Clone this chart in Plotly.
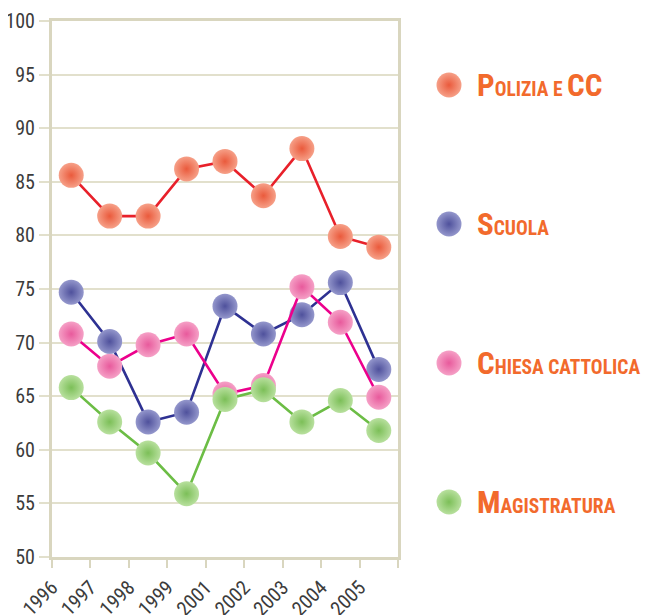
import plotly.graph_objects as go

years = ["1996", "1997", "1998", "1999", "2001", "2002", "2003", "2004", "2005"]
polizia = [85.6, 81.8, 81.8, 86.2, 86.9, 83.7, 88.1, 79.9, 78.9]
scuola = [74.7, 70.1, 62.6, 63.5, 73.4, 70.8, 72.6, 75.6, 67.5]
chiesa = [70.8, 67.8, 69.8, 70.8, 65.2, 66.0, 75.2, 71.9, 64.9]
magistratura = [65.8, 62.6, 59.7, 55.9, 64.7, 65.6, 62.6, 64.6, 61.8]

series_names = ["Polizia e CC", "Scuola", "Chiesa cattolica", "Magistratura"]
series_values = [polizia, scuola, chiesa, magistratura]
line_colors = ["#e8202a", "#2e3192", "#ec008c", "#6cbd45"]
marker_centers = ["#f6a088", "#9497cc", "#f5a0c6", "#b8e09e"]
marker_edges = ["#ea5a3c", "#4f519c", "#e85a9c", "#7cbf58"]

AXIS = "#d9d6bf"
GRID = "#e2e0cc"
TXT = "#3c3c3c"
ORANGE = "#f26a2c"
FONT = "Roboto Condensed, Liberation Sans, sans-serif"

# the page body adds an 8px offset; target pixel positions are in window coordinates
OFF = 8
W, H = 651 - OFF, 615 - OFF
left_px, right_px, top_px, bot_px = 52, 398, 21, 557
ml, mr, mt, mb = left_px - OFF, 0, top_px - OFF, H - (bot_px - OFF)
pw = W - ml - mr
xdom_end = (right_px - left_px) / pw

fig = go.Figure()
xpos = [i + 0.5 for i in range(len(years))]
for name, vals, lc, mc, me in zip(series_names, series_values, line_colors, marker_centers, marker_edges):
    fig.add_trace(go.Scatter(
        x=xpos, y=vals, mode="lines+markers", name=name,
        line=dict(color=lc, width=2.6),
        marker=dict(size=25, color=mc, gradient=dict(type="radial", color=me), line=dict(width=0)),
        showlegend=False, xaxis="x", yaxis="y",
    ))

# legend markers on a secondary axis pair
fig.add_trace(go.Scatter(
    x=[0] * len(series_names), y=list(range(len(series_names))), mode="markers",
    marker=dict(size=25, color=marker_centers, gradient=dict(type="radial", color=marker_edges), line=dict(width=0)),
    showlegend=False, xaxis="x2", yaxis="y2", hoverinfo="skip",
))


def small_caps(label, small=19.5):
    out = []
    for word_i, word in enumerate(label.split(" ")):
        if word_i:
            out.append(f"<span style='font-size:{small}px'> </span>")
        for ch in word:
            if ch.isupper():
                out.append(ch)
            else:
                out.append(f"<span style='font-size:{small}px'>{ch.upper()}</span>")
    return "<b>" + "".join(out) + "</b>"


annotations = []
for i, name in enumerate(series_names):
    annotations.append(dict(
        x=0, y=i, xref="x2", yref="y2", text=small_caps(name), showarrow=False,
        xanchor="left", yanchor="middle", xshift=26,
        font=dict(family=FONT, size=31, color=ORANGE),
    ))

x2_dom0 = 0.6
x2_left_px = left_px + x2_dom0 * pw
x2_w = pw * (1 - x2_dom0)
mk_px = 449
leg_top_px = 85
leg_step = 139

fig.update_layout(
    width=W, height=H,
    margin=dict(l=ml, r=mr, t=mt, b=mb),
    paper_bgcolor="white", plot_bgcolor="white",
    showlegend=False,
    font=dict(family=FONT, color=TXT),
    xaxis=dict(
        domain=[0, xdom_end], range=[0, len(years)], automargin=False,
        tickmode="array", tickvals=list(range(len(years) + 1)), ticktext=years + [""],
        tickangle=-45, tickfont=dict(size=20, color=TXT, family=FONT),
        showline=True, linecolor=AXIS, linewidth=3, mirror=True,
        ticks="outside", ticklen=8, tickwidth=2, tickcolor=AXIS,
        showgrid=False, zeroline=False,
    ),
    yaxis=dict(
        range=[50, 100], tickmode="array", tickvals=list(range(50, 101, 5)), automargin=False,
        tickfont=dict(size=20, color=TXT, family=FONT),
        showline=True, linecolor=AXIS, linewidth=3, mirror=True,
        ticks="outside", ticklen=10, tickwidth=2, tickcolor=GRID,
        showgrid=True, gridcolor=GRID, gridwidth=2, zeroline=False,
        ticklabelstandoff=0,
    ),
    xaxis2=dict(
        domain=[x2_dom0, 1], anchor="y2", automargin=False,
        range=[-(mk_px - x2_left_px) / x2_w, (left_px + pw - mk_px) / x2_w],
        visible=False, fixedrange=True,
    ),
    yaxis2=dict(
        domain=[0, 1], anchor="x2", automargin=False,
        range=[(bot_px - leg_top_px) / leg_step, -(leg_top_px - top_px) / leg_step],
        visible=False, fixedrange=True,
    ),
    annotations=annotations,
)

fig.write_html("out.html")
